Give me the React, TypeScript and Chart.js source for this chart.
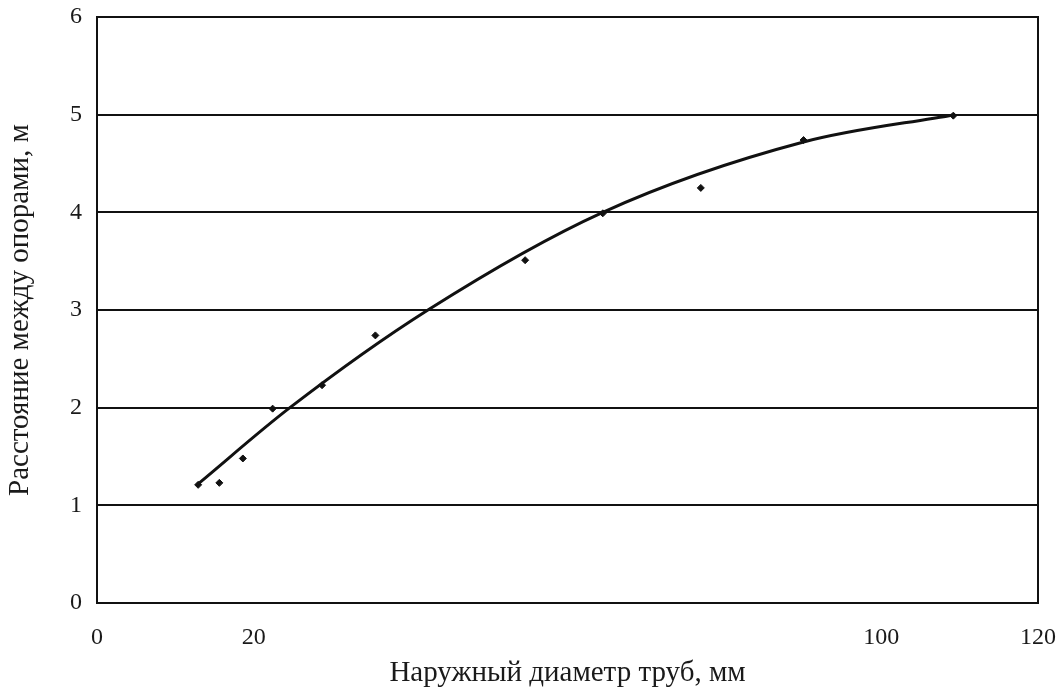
import React, { useEffect, useRef } from "react";
import { Chart, registerables } from "chart.js";

Chart.register(...registerables);

const xTitle = "Наружный диаметр труб, мм";
const yTitle = "Расстояние между опорами, м";
const xTickLabels = [0, 20, 100, 120];
const yTickLabels = [0, 1, 2, 3, 4, 5, 6];

const pointX = [12.9, 15.6, 18.6, 22.4, 28.7, 35.5, 54.6, 64.5, 77.0, 90.1, 109.2];
const pointY = [1.21, 1.23, 1.48, 1.99, 2.23, 2.74, 3.51, 3.99, 4.25, 4.74, 4.99];

const curveX = [12.9, 24.6, 42.2, 64.5, 90.1, 109.4];
const curveY = [1.22, 2.0, 3.0, 4.0, 4.72, 5.0];

const frame = {
  id: "frame",
  afterDraw(chart: any) {
    const { ctx, chartArea } = chart;
    ctx.save();
    ctx.strokeStyle = "#111";
    ctx.lineWidth = 2;
    ctx.strokeRect(chartArea.left, chartArea.top, chartArea.right - chartArea.left, chartArea.bottom - chartArea.top);
    ctx.restore();
  },
};

export default function App() {
  const ref = useRef<HTMLCanvasElement | null>(null);
  useEffect(() => {
    if (!ref.current) return;
    const font = "'Liberation Serif', 'Times New Roman', serif";
    const chart = new Chart(ref.current, {
      type: "scatter",
      data: {
        datasets: [
          {
            type: "line",
            data: curveX.map((x, i) => ({ x, y: curveY[i] })),
            borderColor: "#111",
            borderWidth: 3,
            pointRadius: 0,
            cubicInterpolationMode: "monotone",
            fill: false,
          },
          {
            data: pointX.map((x, i) => ({ x, y: pointY[i] })),
            backgroundColor: "#111",
            borderColor: "#111",
            pointStyle: "rectRot",
            pointRadius: 3.5,
          },
        ] as any,
      },
      options: {
        animation: false,
        responsive: false,
        layout: { padding: { top: 17, right: 22, left: 0, bottom: 0 } },
        plugins: { legend: { display: false }, tooltip: { enabled: false } },
        scales: {
          x: {
            type: "linear",
            min: 0,
            max: 120,
            afterBuildTicks(scale: any) {
              scale.ticks = xTickLabels.map((v) => ({ value: v }));
            },
            afterFit(scale: any) {
              scale.height = 85;
              scale.paddingLeft = 0;
              scale.paddingRight = 0;
            },
            grid: { display: false, drawTicks: false },
            border: { display: true, color: "#111", width: 2 },
            ticks: { color: "#1a1a1a", font: { family: font, size: 24 }, padding: 20, maxRotation: 0, autoSkip: false },
            title: { display: true, text: xTitle, color: "#1a1a1a", font: { family: font, size: 29, lineHeight: 1.0 }, padding: { top: 0, bottom: 0 } },
          },
          y: {
            type: "linear",
            min: 0,
            max: 6,
            afterBuildTicks(scale: any) {
              scale.ticks = yTickLabels.map((v) => ({ value: v }));
            },
            afterFit(scale: any) {
              scale.width = 97;
              scale.paddingTop = 0;
              scale.paddingBottom = 0;
            },
            grid: { color: "#111", lineWidth: 2, drawTicks: false },
            border: { display: true, color: "#111", width: 2 },
            ticks: { color: "#1a1a1a", font: { family: font, size: 24 }, padding: 15 },
            title: { display: true, text: yTitle, color: "#1a1a1a", font: { family: font, size: 29, lineHeight: 1.0 }, padding: { top: 6, bottom: 0 } },
          },
        },
      } as any,
      plugins: [frame],
    });
    return () => chart.destroy();
  }, []);
  return (
    <div style={{ position: "absolute", left: 0, top: 0, width: 1060, height: 688, background: "#fff" }}>
      <canvas ref={ref} width={1060} height={688} />
    </div>
  );
}
